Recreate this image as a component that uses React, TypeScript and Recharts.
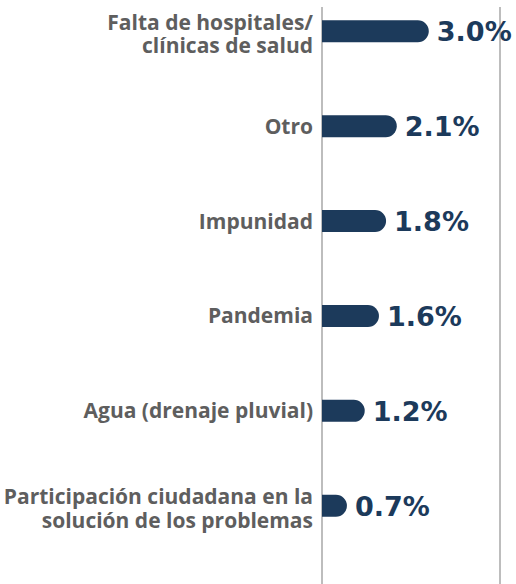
import { BarChart, Bar, XAxis, YAxis, CartesianGrid, LabelList } from 'recharts'

const categories = [
  'Falta de hospitales/\nclínicas de salud',
  'Otro',
  'Impunidad',
  'Pandemia',
  'Agua (drenaje pluvial)',
  'Participación ciudadana en la\nsolución de los problemas',
]
const values = [3.0, 2.1, 1.8, 1.6, 1.2, 0.7]
const xTicks = [0, 5]

const NAVY = '#1c3a5b'
const GRAY = '#5e5e5e'

const data = categories.map((name, i) => ({ name, value: values[i] }))

function CategoryTick({ x, y, payload }: any) {
  const lines = String(payload.value).split('\n')
  const lh = 23.5
  const startDy = -((lines.length - 1) * lh) / 2 + 7 + (lines.length > 1 ? 3 : 0)
  return (
    <text x={x} y={y} textAnchor="end" fill={GRAY} fontSize={21} fontWeight={700} fontFamily="'Open Sans', sans-serif">
      {lines.map((l, i) => (
        <tspan key={i} x={x} dy={i === 0 ? startDy : lh}>{l}</tspan>
      ))}
    </text>
  )
}

function ValueLabel({ x, y, width, height, value }: any) {
  return (
    <text
      x={x + width + 8}
      y={y + height / 2 + 10}
      fill={NAVY}
      fontSize={27}
      fontWeight={700}
      fontFamily="'DejaVu Sans', sans-serif"
    >
      {Number(value).toFixed(1)}%
    </text>
  )
}

export default function App() {
  return (
    <div style={{ position: 'absolute', left: 0, top: 0, width: 516, height: 584, background: '#fff' }}>
      <BarChart
        width={516}
        height={584}
        data={data}
        layout="vertical"
        margin={{ top: 7, right: 16, bottom: 0, left: 0 }}
      >
        <CartesianGrid horizontal={false} vertical stroke="#9a9a9a" strokeWidth={1.3} />
        <XAxis type="number" domain={[0, 5]} ticks={xTicks} hide />
        <YAxis
          type="category"
          dataKey="name"
          width={322}
          axisLine={false}
          tickLine={false}
          tickMargin={3}
          padding={{ top: -22.75, bottom: 30.35 }}
          tick={<CategoryTick />}
          interval={0}
        />
        <Bar dataKey="value" fill={NAVY} barSize={22} radius={[0, 11, 11, 0]} isAnimationActive={false}>
          <LabelList dataKey="value" content={<ValueLabel />} />
        </Bar>
      </BarChart>
    </div>
  )
}
